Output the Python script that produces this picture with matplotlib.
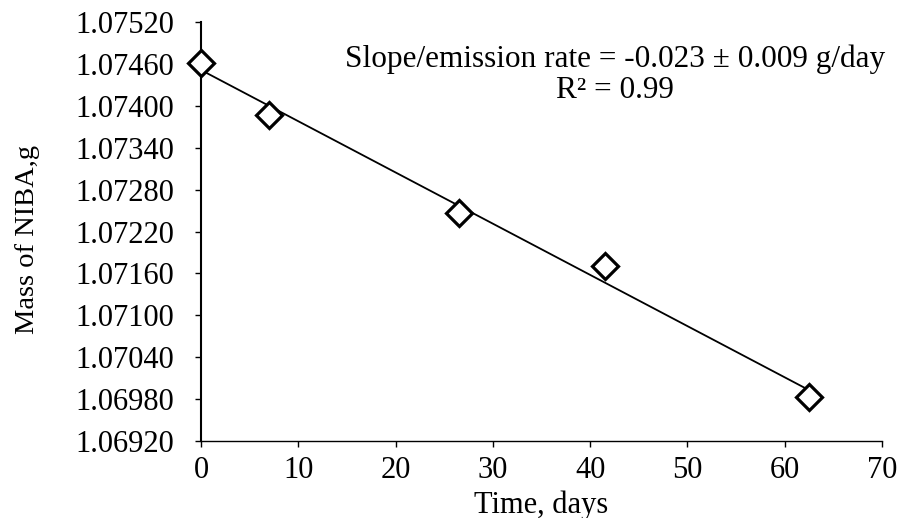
import numpy as np
import matplotlib.pyplot as plt

plt.rcParams['font.family'] = ['Liberation Serif', 'DejaVu Serif']

# data
time_days = [0, 7, 26.5, 41.5, 62.5]
mass_g = [1.07461, 1.07387, 1.07246, 1.07171, 1.06983]

xticks = [0, 10, 20, 30, 40, 50, 60, 70]
yticks = [1.06920, 1.06980, 1.07040, 1.07100, 1.07160, 1.07220,
          1.07280, 1.07340, 1.07400, 1.07460, 1.07520]

# linear trend line
p = np.polyfit(time_days, mass_g, 1)
xfit = np.array([time_days[0], time_days[-1]])
yfit = np.polyval(p, xfit)

fig = plt.figure(figsize=(9.02, 5.18), dpi=100)
ax = fig.add_axes([0.2228, 0.1486, 0.755, 0.8089])

ax.plot(xfit, yfit, color='black', lw=1.3, zorder=2)
ax.plot(time_days, mass_g, 'D', ms=13.5, mfc='white', mec='black', mew=2.3,
        clip_on=False, zorder=3)

ax.set_xlim(0, 70)
ax.set_ylim(1.06920, 1.07520)
ax.set_xticks(xticks)
ax.set_yticks(yticks)
ax.set_yticklabels(['%.5f' % v for v in yticks])
ax.tick_params(labelsize=22, direction='out', length=4.5, width=1)
ax.tick_params(axis='y', pad=15)
ax.tick_params(axis='x', pad=6)

for s in ['top', 'right']:
    ax.spines[s].set_visible(False)
ax.spines['left'].set_linewidth(1.5)
ax.spines['bottom'].set_linewidth(1)

ax.set_xlabel('Time, days', fontsize=22, labelpad=4)
ax.set_ylabel('Mass of NIBA,g', fontsize=20.5)
ax.yaxis.set_label_coords(-0.236, 0.48)

ax.text(0.608, 0.874, 'Slope/emission rate = -0.023 \u00b1 0.009 g/day\nR\u00b2 = 0.99',
        transform=ax.transAxes, ha='center', va='center', fontsize=22.5,
        linespacing=1.1)

fig.savefig('out.png', dpi=100)
